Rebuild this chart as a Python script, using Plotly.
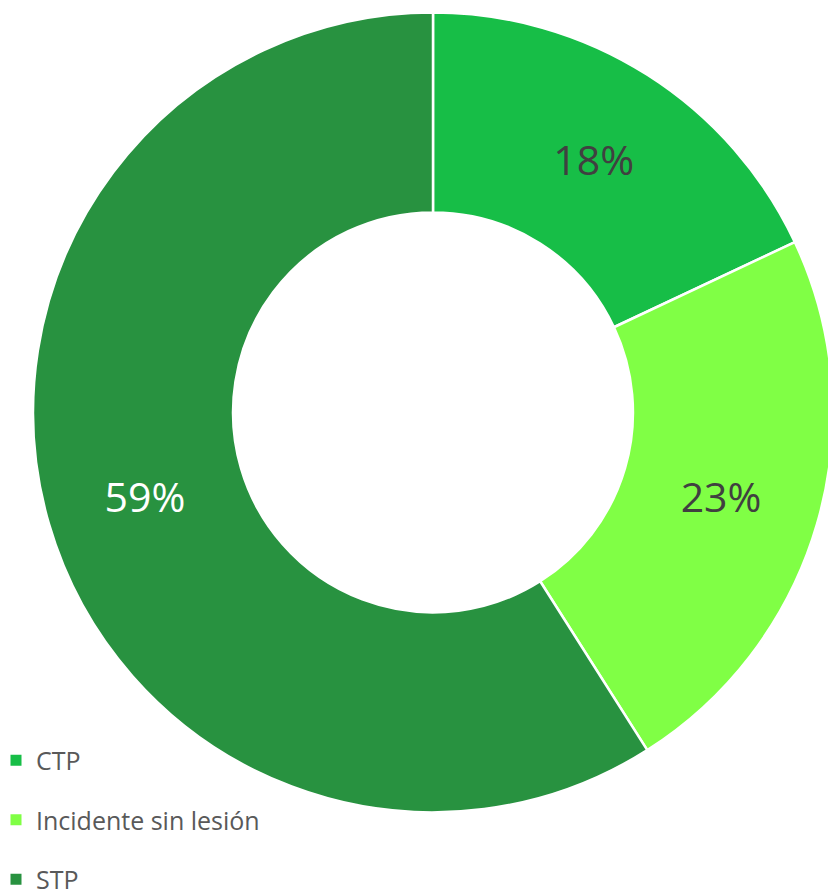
import plotly.graph_objects as go

categories = ["CTP", "Incidente sin lesión", "STP"]
values = [18, 23, 59]
colors = ["#17BE47", "#80FF45", "#289240"]
text_colors = ["#404040", "#404040", "#FFFFFF"]

W, H = 836, 895
fig = go.Figure()
fig.add_trace(go.Pie(
    labels=categories, values=values, hole=0.5, sort=False, direction="clockwise",
    rotation=0, marker=dict(colors=colors, line=dict(color="white", width=2.5)),
    textinfo="percent", texttemplate="%{percent:.0%}", textposition="inside",
    insidetextorientation="horizontal",
    insidetextfont=dict(family="Open Sans", size=41, color=text_colors),
    showlegend=False,
    domain=dict(x=[21 / W, 829 / W], y=[(H - 812.5) / H, (H - 4.5) / H]),
))
for c, col in zip(categories, colors):
    fig.add_trace(go.Scatter(
        x=[None], y=[None], mode="markers", name=c, legendgroup=c,
        marker=dict(symbol="square", size=11, color=col),
    ))
fig.update_layout(
    width=W, height=H, margin=dict(l=0, r=0, t=0, b=0),
    paper_bgcolor="white", plot_bgcolor="white",
    xaxis=dict(visible=False), yaxis=dict(visible=False),
    legend=dict(x=0, y=-0.0096, xanchor="left", yanchor="bottom", indentation=-12,
                font=dict(family="Open Sans", size=25, color="#595959"),
                tracegroupgap=24, itemwidth=30, bgcolor="rgba(0,0,0,0)"),
)
fig.write_html("out.html")
